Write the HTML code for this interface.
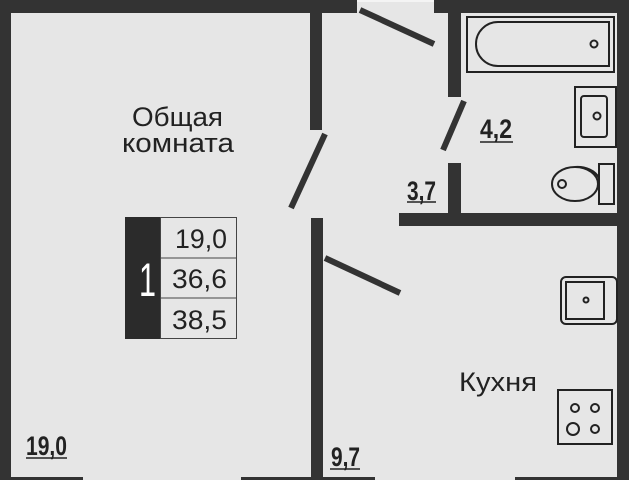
<!DOCTYPE html>
<html><head><meta charset="utf-8"><style>
html,body{margin:0;padding:0;background:#e6e6e6}
svg{display:block}
.n{font-family:"Liberation Sans",sans-serif;fill:#222}
.t{font-family:"Liberation Sans",sans-serif;fill:#222}
</style></head><body>
<svg width="629" height="480" viewBox="0 0 629 480" xmlns="http://www.w3.org/2000/svg">
<rect width="629" height="480" fill="#e6e6e6"/>
<g fill="#333">
<rect x="0" y="0" width="357" height="13"/>
<rect x="357" y="0" width="77" height="2" fill="#f4f4f4"/>
<rect x="434" y="0" width="195" height="13"/>
<rect x="0" y="0" width="11" height="480"/>
<rect x="617" y="0" width="12" height="480"/>
<rect x="0" y="477" width="629" height="3"/>
<rect x="310" y="0" width="12" height="130"/>
<rect x="311" y="218" width="12" height="262"/>
<rect x="448" y="0" width="13" height="97"/>
<rect x="448" y="163" width="13" height="63"/>
<rect x="399" y="213" width="218" height="13"/>
</g>
<rect x="83" y="477" width="158" height="3" fill="#e6e6e6"/>
<rect x="375" y="477" width="140" height="3" fill="#e6e6e6"/>
<g stroke="#333" stroke-width="6" stroke-linecap="butt">
<line x1="360" y1="10" x2="434" y2="44"/>
<line x1="325" y1="134" x2="291" y2="208"/>
<line x1="464" y1="101" x2="443" y2="150"/>
<line x1="325" y1="258" x2="400" y2="293"/>
</g>
<g fill="none" stroke="#222" stroke-width="2">
<rect x="467" y="17" width="147" height="55"/>
<path d="M498 22 H609 V66 H498 A22 22 0 0 1 498 22 Z"/>
<circle cx="594" cy="44" r="3.5"/>
<rect x="575" y="87" width="41" height="60"/>
<rect x="581" y="96" width="26" height="41" rx="3"/>
<circle cx="597" cy="116" r="3.5"/>
<rect x="599" y="164" width="15" height="40"/>
<ellipse cx="575" cy="184" rx="23" ry="17"/>
<path d="M575 167 A23 17 0 0 1 599 178"/>
<circle cx="562" cy="184" r="4"/>
<rect x="561" y="277" width="56" height="47" rx="5"/>
<rect x="566" y="282" width="38" height="37"/>
<circle cx="586" cy="300" r="2.5"/>
<rect x="558" y="390" width="54" height="54"/>
<circle cx="575" cy="408" r="4"/><circle cx="595" cy="408" r="4"/>
<circle cx="573" cy="429" r="6"/><circle cx="595" cy="429" r="4"/>
</g>
<rect x="125" y="217" width="36" height="122" fill="#2b2b2b"/>
<rect x="160.5" y="217.5" width="76" height="121" fill="#e6e6e6" stroke="#444"/>
<line x1="161" y1="258" x2="237" y2="258" stroke="#444"/>
<line x1="161" y1="298" x2="237" y2="298" stroke="#444"/>
<text x="139" y="296" font-size="47" textLength="17" lengthAdjust="spacingAndGlyphs" class="n" style="fill:#fff">1</text>
<text x="175" y="248" font-size="27" textLength="52" lengthAdjust="spacingAndGlyphs" class="n">19,0</text>
<text x="172" y="288" font-size="27" textLength="55" lengthAdjust="spacingAndGlyphs" class="n">36,6</text>
<text x="172" y="329" font-size="27" textLength="55" lengthAdjust="spacingAndGlyphs" class="n">38,5</text>
<text x="132" y="126" font-size="27" textLength="91" lengthAdjust="spacingAndGlyphs" class="t">Общая</text>
<text x="122" y="152" font-size="27" textLength="112" lengthAdjust="spacingAndGlyphs" class="t">комната</text>
<text x="459" y="391" font-size="27" textLength="78" lengthAdjust="spacingAndGlyphs" class="t">Кухня</text>
<g class="n" font-size="27" font-weight="bold">
<text x="480" y="138" textLength="32" lengthAdjust="spacingAndGlyphs">4,2</text>
<text x="407" y="200" textLength="29" lengthAdjust="spacingAndGlyphs">3,7</text>
<text x="26" y="455" textLength="41" lengthAdjust="spacingAndGlyphs">19,0</text>
<text x="331" y="466" textLength="29" lengthAdjust="spacingAndGlyphs">9,7</text>
</g>
<g stroke="#222" stroke-width="1.5">
<line x1="480" y1="142" x2="513" y2="142"/>
<line x1="407" y1="202" x2="436" y2="202"/>
<line x1="26" y1="458" x2="67" y2="458"/>
<line x1="330" y1="469" x2="360" y2="469"/>
</g>
</svg>
</body></html>
